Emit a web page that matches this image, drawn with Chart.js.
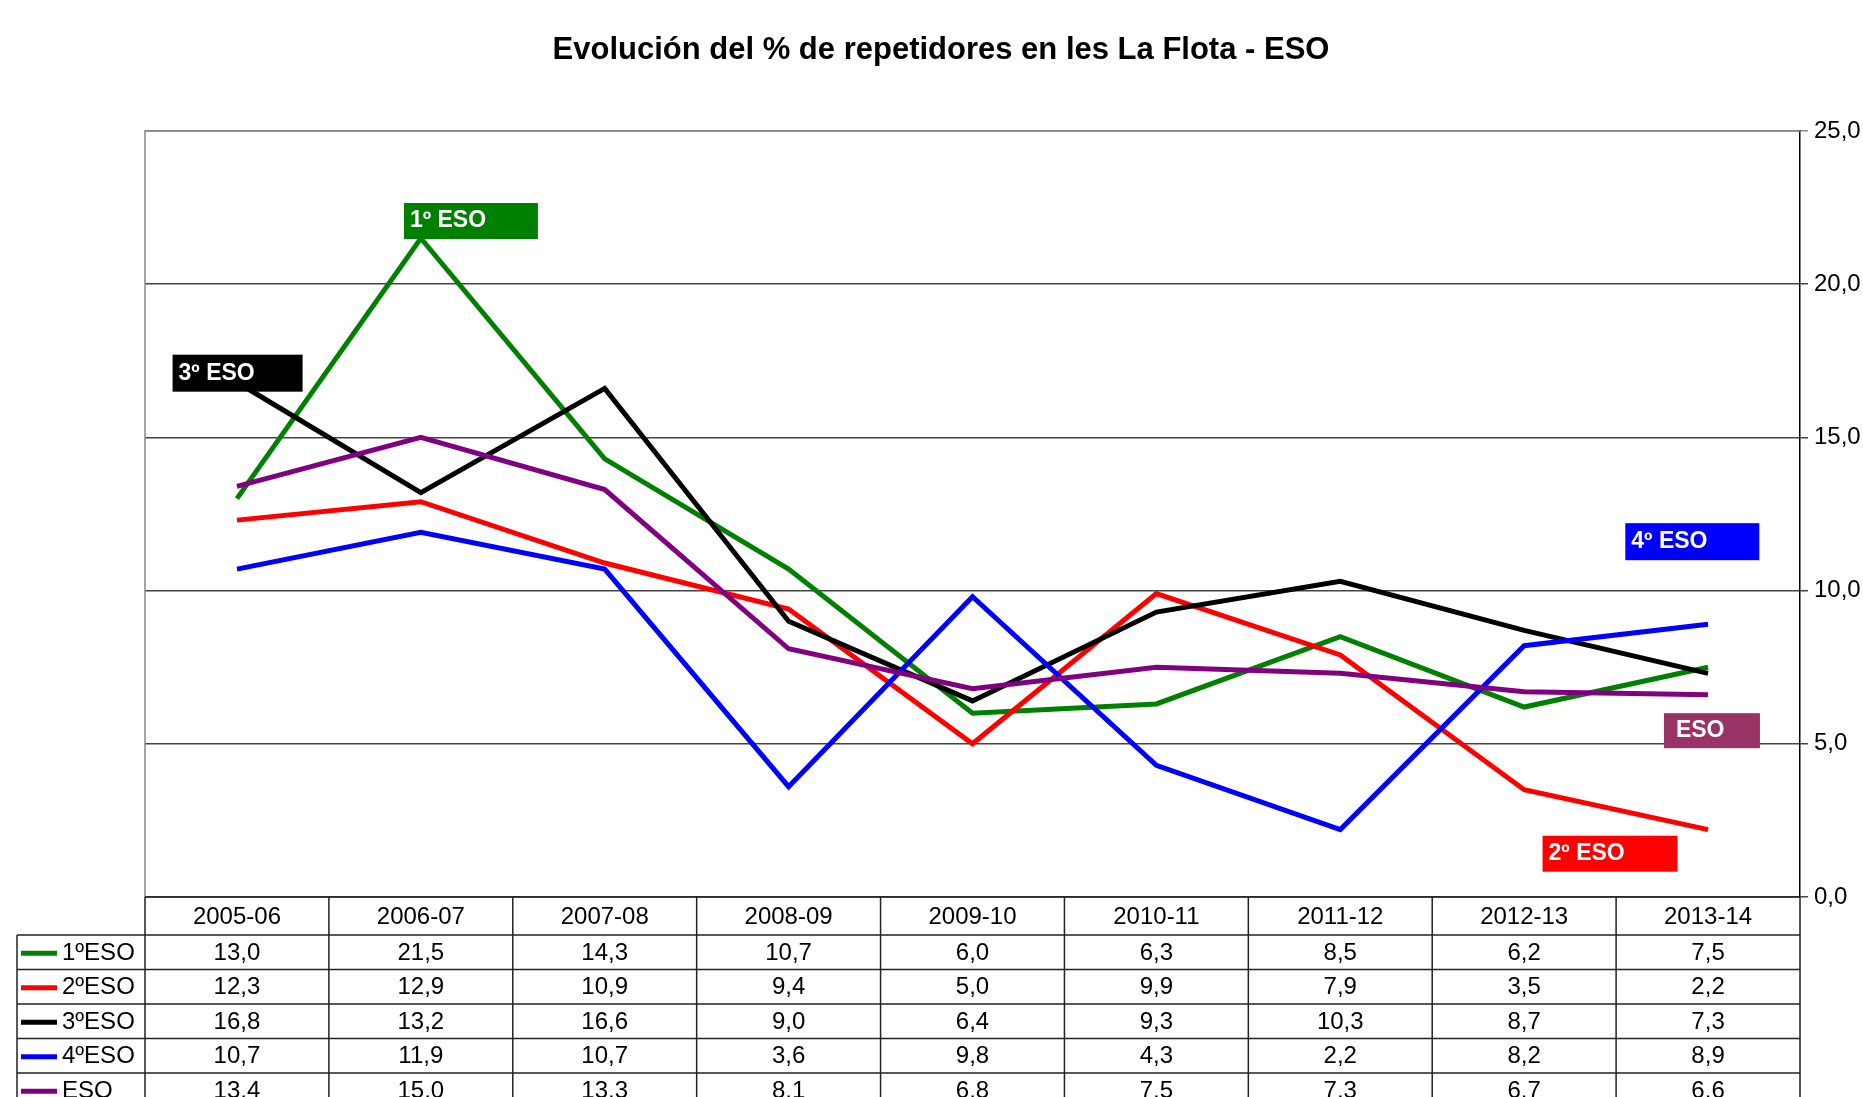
<!DOCTYPE html>
<html>
<head>
<meta charset="utf-8">
<script src="https://cdn.jsdelivr.net/npm/chart.js@4.4.0/dist/chart.umd.min.js"></script>
<style>
  html, body { margin: 0; padding: 0; background: #fff; }
  #wrap { width: 1863px; height: 1097px; }
</style>
</head>
<body>
<div id="wrap"><canvas id="repChart" width="1863" height="1097"></canvas></div>
<script>
const years = ['2005-06', '2006-07', '2007-08', '2008-09', '2009-10', '2010-11', '2011-12', '2012-13', '2013-14'];
const eso1 = [13.0, 21.5, 14.3, 10.7, 6.0, 6.3, 8.5, 6.2, 7.5];
const eso2 = [12.3, 12.9, 10.9, 9.4, 5.0, 9.9, 7.9, 3.5, 2.2];
const eso3 = [16.8, 13.2, 16.6, 9.0, 6.4, 9.3, 10.3, 8.7, 7.3];
const eso4 = [10.7, 11.9, 10.7, 3.6, 9.8, 4.3, 2.2, 8.2, 8.9];
const esoAll = [13.4, 15.0, 13.3, 8.1, 6.8, 7.5, 7.3, 6.7, 6.6];
const seriesNames = ['1ºESO', '2ºESO', '3ºESO', '4ºESO', 'ESO'];
const seriesColors = ['#008000', '#ff0000', '#000000', '#0000ff', '#800080'];
const yMin = 0, yMax = 25, yStep = 5;

// tag boxes: text, fill, left edge (category index), top edge (value)
const tagText = ['1º ESO', '3º ESO', '4º ESO', 'ESO', '2º ESO'];
const tagFill = ['#008000', '#000000', '#0000ff', '#993366', '#ff0000'];
const tagPos = [[0.908, 22.65, 134, 36], [-0.35, 17.7, 130, 37], [7.55, 12.2, 134, 37], [7.76, 6.0, 96, 35], [7.10, 2.0, 135, 36]];

const FONT = "'Liberation Sans', Arial, sans-serif";
const fmt = v => v.toFixed(1).replace('.', ',');

const seriesData = [eso1, eso2, eso3, eso4, esoAll];

const titlePlugin = {
  id: 'titleText',
  afterDraw(chart) {
    const ctx = chart.ctx;
    ctx.save();
    ctx.fillStyle = '#000';
    ctx.font = 'bold 31px ' + FONT;
    ctx.textAlign = 'center';
    ctx.textBaseline = 'middle';
    ctx.fillText('Evolución del % de repetidores en les La Flota - ESO', 941, 50);
    ctx.restore();
  }
};

const framePlugin = {
  id: 'frame',
  beforeDatasetsDraw(chart) {
    const { ctx, chartArea: a } = chart;
    ctx.save();
    ctx.strokeStyle = '#888';
    ctx.lineWidth = 1.5;
    ctx.beginPath();
    ctx.moveTo(a.left, a.bottom);
    ctx.lineTo(a.left, a.top);
    ctx.lineTo(a.right, a.top);
    ctx.stroke();
    ctx.restore();
  }
};

const tagPlugin = {
  id: 'tags',
  afterDatasetsDraw(chart) {
    const ctx = chart.ctx;
    const xs = chart.scales.x, ys = chart.scales.y;
    ctx.save();
    ctx.font = 'bold 23px ' + FONT;
    ctx.textBaseline = 'middle';
    tagText.forEach((t, i) => {
      const [xi, yv, w, h] = tagPos[i];
      const px = xs.getPixelForValue(xi);
      const py = ys.getPixelForValue(yv);
      ctx.fillStyle = tagFill[i];
      ctx.fillRect(px, py, w, h);
      ctx.fillStyle = '#fff';
      ctx.fillText(t, px + (t === 'ESO' ? 12 : 6), py + h / 2);
    });
    ctx.restore();
  }
};

const tablePlugin = {
  id: 'dataTable',
  afterDraw(chart) {
    const { ctx, chartArea: a } = chart;
    const xs = chart.scales.x;
    const half = (xs.getPixelForValue(1) - xs.getPixelForValue(0)) / 2;
    const top = a.bottom;
    const headH = 38, rowH = 34.5;
    const legLeft = 17;
    const bottom = chart.height + 5;
    ctx.save();
    ctx.strokeStyle = '#222';
    ctx.lineWidth = 1.5;
    ctx.beginPath();
    ctx.moveTo(a.left, top); ctx.lineTo(a.right, top);
    for (let r = 0; r <= seriesNames.length; r++) {
      const y = top + headH + r * rowH;
      ctx.moveTo(legLeft, y); ctx.lineTo(a.right, y);
    }
    years.forEach((_, i) => {
      const x = xs.getPixelForValue(i) - half;
      ctx.moveTo(x, top); ctx.lineTo(x, bottom);
    });
    ctx.moveTo(a.right, top); ctx.lineTo(a.right, bottom);
    ctx.moveTo(legLeft, top + headH); ctx.lineTo(legLeft, bottom);
    ctx.stroke();

    ctx.fillStyle = '#000';
    ctx.font = '24px ' + FONT;
    ctx.textAlign = 'center';
    ctx.textBaseline = 'middle';
    years.forEach((y, i) => {
      ctx.fillText(y, xs.getPixelForValue(i), top + headH / 2 + 1);
    });
    seriesData.forEach((arr, r) => {
      const cy = top + headH + r * rowH + rowH / 2 + 1;
      arr.forEach((v, i) => ctx.fillText(fmt(v), xs.getPixelForValue(i), cy));
      ctx.strokeStyle = seriesColors[r];
      ctx.lineWidth = 5;
      ctx.beginPath();
      ctx.moveTo(21, cy); ctx.lineTo(57, cy);
      ctx.stroke();
      ctx.textAlign = 'left';
      ctx.fillText(seriesNames[r], 62, cy);
      ctx.textAlign = 'center';
    });
    ctx.restore();
  }
};

const ctx = document.getElementById('repChart').getContext('2d');
const chart = new Chart(ctx, {
  type: 'line',
  data: {
    labels: years,
    datasets: seriesData.map((d, i) => ({
      label: seriesNames[i],
      data: d,
      borderColor: seriesColors[i],
      backgroundColor: seriesColors[i],
      borderWidth: 5,
      pointRadius: 0,
      fill: false,
      tension: 0,
      order: -i
    }))
  },
  options: {
    responsive: false,
    animation: false,
    layout: { padding: { left: 145, top: 131, bottom: 200, right: 0 } },
    plugins: { legend: { display: false }, title: { display: false }, tooltip: { enabled: false } },
    scales: {
      x: { display: false, offset: true },
      y: {
        position: 'right',
        min: yMin, max: yMax,
        afterFit: s => { s.width = 63; },
        border: { color: '#000', width: 1.5 },
        grid: {
          color: c => c.tick.value === yMax ? '#888' : '#444',
          lineWidth: 1.5,
          tickLength: 8
        },
        ticks: {
          stepSize: yStep,
          padding: 6,
          color: '#000',
          font: { family: FONT, size: 24 },
          callback: v => fmt(v)
        }
      }
    }
  },
  plugins: [framePlugin, tagPlugin, tablePlugin, titlePlugin]
});
</script>
</body>
</html>
